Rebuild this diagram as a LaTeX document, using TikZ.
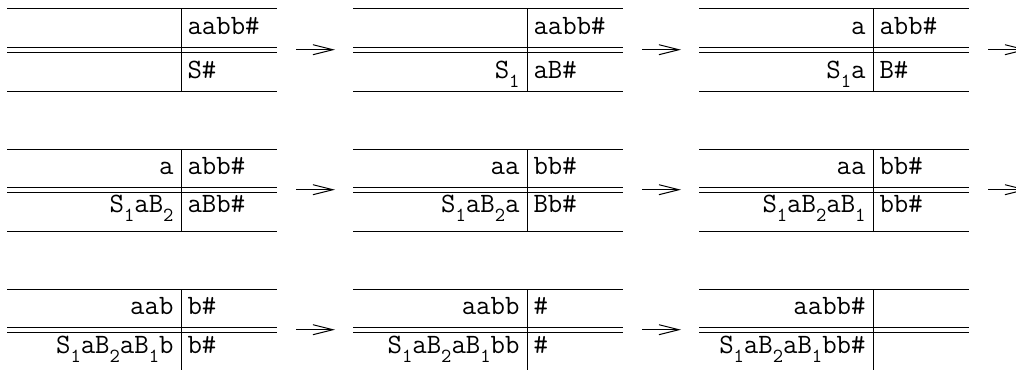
\documentclass[tikz,border=0pt]{standalone}
\usetikzlibrary{arrows.meta}
\newcommand\ix[1]{\raisebox{-9pt}{\fontsize{20}{20}\selectfont #1}}

\begin{document}
\begin{tikzpicture}[x=1pt, y=-1pt, line width=1pt,
    cell/.style={inner sep=0pt, font=\fontsize{28}{30}\selectfont\ttfamily},
    move/.style={-{Straight Barb[length=20pt, width=10pt]}}]
    \clip (0,0) rectangle (1016,369);
    % column/row/lower baseline/stack/input/output/rest
    \foreach \c/\r/\b/\ul/\ur/\ll/\lr in {
        1/1/69//aabb\#//S\#, 2/1/69//aabb\#/S\ix1/aB\#, 3/1/69/a/abb\#/S\ix1a/B\#,
        1/2/63/a/abb\#/S\ix1aB\ix2/aBb\#, 2/2/63/aa/bb\#/S\ix1aB\ix2a/Bb\#,
        3/2/63/aa/bb\#/S\ix1aB\ix2aB\ix1/bb\#,
        1/3/64/aab/b\#/S\ix1aB\ix2aB\ix1b/b\#, 2/3/64/aabb/\#/S\ix1aB\ix2aB\ix1bb/\#,
        3/3/64/aabb\#//S\ix1aB\ix2aB\ix1bb\#/}
    {
        \coordinate (T\c\r) at ({7+346*(\c-1)}, {9+140*(\r-1)});
        \draw (T\c\r) -- ++(270,0);
        \draw (T\c\r) ++(0,38.7) -- ++(270,0); \draw (T\c\r) ++(0,43.3) -- ++(270,0);
        \draw (T\c\r) ++(0,82) -- ++(270,0);
        \draw (T\c\r) ++(174,0) -- ++(0,82);
        \node[cell, anchor=base east] (ul\c\r) at ([shift={(167,25.5)}]T\c\r) {\ul};
        \node[cell, anchor=base west] (ur\c\r) at ([shift={(180,25.5)}]T\c\r) {\ur};
        \node[cell, anchor=base east] (ll\c\r) at ([shift={(167,\b)}]T\c\r) {\ll};
        \node[cell, anchor=base west] (lr\c\r) at ([shift={(180,\b)}]T\c\r) {\lr};
        \coordinate (out\c\r) at ([shift={(289,40.7)}]T\c\r);
    }
    \foreach \c/\r in {1/1,2/1,3/1,1/2,2/2,3/2,1/3,2/3}
        \draw[move] (out\c\r) -- ++(39,0);
\end{tikzpicture}
\end{document}
